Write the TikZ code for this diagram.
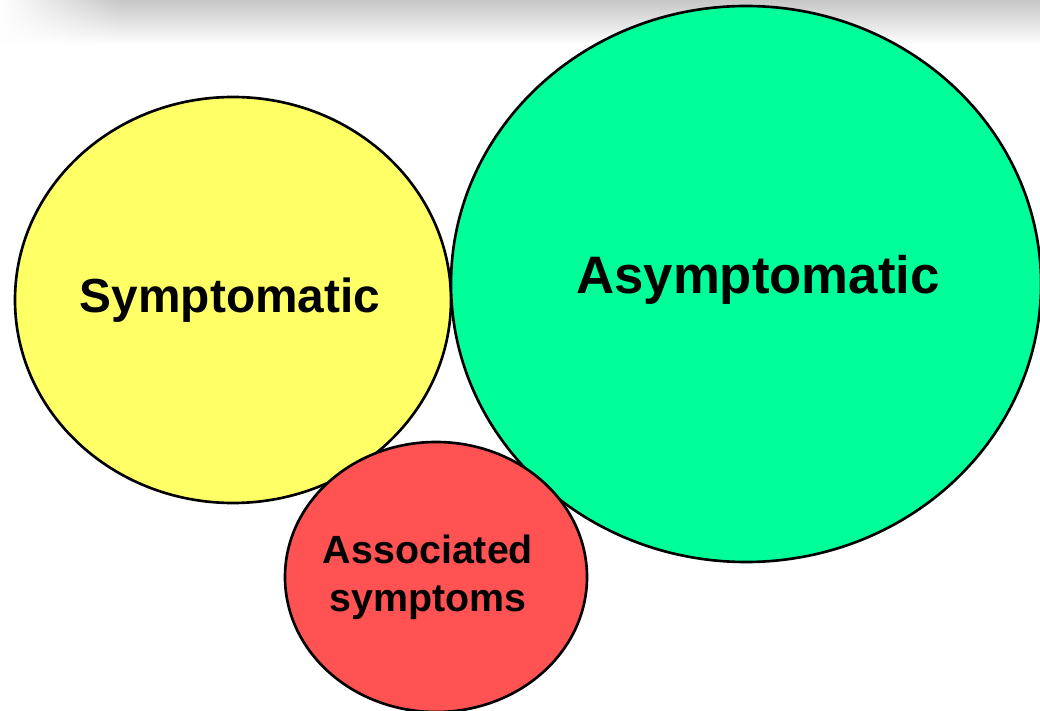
\documentclass[tikz,border=0pt]{standalone}
\usepackage{fontspec}
\setmainfont{Liberation Sans}
\usepackage{tikz}
\usetikzlibrary{positioning, fadings}

\definecolor{sympyellow}{HTML}{FFFF66}
\definecolor{asympgreen}{HTML}{00FF99}
\definecolor{assocred}{HTML}{FF5353}

\tikzset{
  blob/.style={draw=black, line width=0.75pt},
  label/.style={font=\bfseries, align=center, text=black}
}

\begin{document}
\begin{tikzpicture}
                \useasboundingbox (0,0) rectangle (10.4,7.1);
                \shade[top color=black!22, bottom color=white] (0,6.65) rectangle (10.4,7.1);
                \fill[white, path fading=east] (0,6.6) rectangle (1.2,7.1);

                \coordinate (Y) at (2.33,4.10);
                \coordinate (G) at (7.46,4.26);
                \coordinate (R) at (4.36,1.33);

                % ba vòng
                \draw[blob, fill=sympyellow] (Y) ellipse [x radius=2.18, y radius=2.03];
                \draw[blob, fill=asympgreen] (G) ellipse [x radius=2.95, y radius=2.78];
                \draw[blob, fill=assocred] (R) ellipse [x radius=1.51, y radius=1.35];

                \node[label, font=\bfseries\fontsize{13.6}{16}\selectfont] (symp) at (2.30,4.10) {Symptomatic};
                \node[label, font=\bfseries\fontsize{15}{18}\selectfont] (asymp) at (7.58,4.30) {Asymptomatic};
                \node[label, font=\bfseries\fontsize{11.2}{13.6}\selectfont] (assoc) at (4.28,1.33) {Associated\\symptoms};
            \end{tikzpicture}
\end{document}
